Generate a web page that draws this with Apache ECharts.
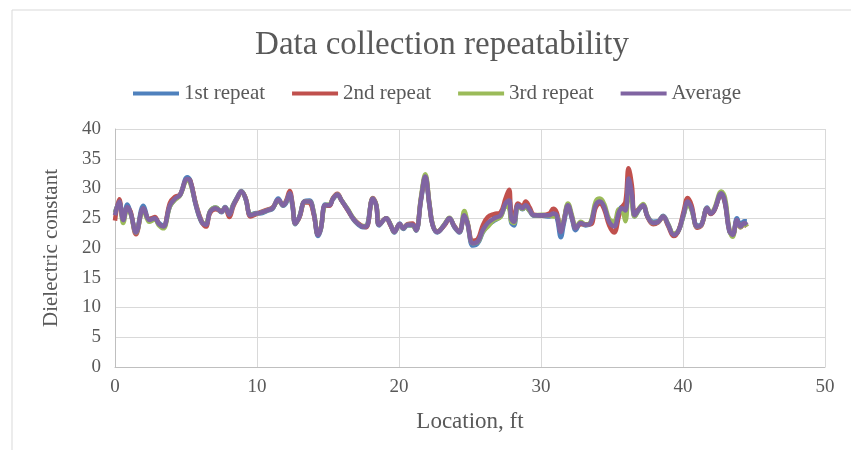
<!DOCTYPE html>
<html>
<head>
<meta charset="utf-8">
<script src="https://cdn.jsdelivr.net/npm/echarts@6/dist/echarts.min.js"></script>
<style>
  html, body { margin: 0; padding: 0; background: #ffffff; }
  #chart { width: 851px; height: 450px; }
</style>
</head>
<body>
<div id="chart"></div>
<script>
// Survey locations along the test section (ft)
const locations = [
  0.0, 0.3, 0.58, 0.87, 1.1, 1.48, 2.0, 2.42, 2.8, 3.1,
  3.4, 3.87, 4.23, 4.58, 5.09, 5.3, 5.7, 6.1, 6.4, 6.7,
  7.1, 7.5, 7.75, 8.05, 8.33, 8.6, 8.9, 9.2, 9.55, 9.95,
  10.2, 10.8, 11.1, 11.5, 11.84, 12.06, 12.3, 12.5, 12.7, 13.0,
  13.36, 13.7, 14.0, 14.3, 14.5, 14.8, 15.1, 15.35, 15.66, 15.95,
  16.4, 16.76, 17.1, 17.46, 17.7, 18.15, 18.4, 18.6, 19.1, 19.4,
  19.67, 20.05, 20.3, 20.6, 20.95, 21.2, 21.55, 21.85, 22.15, 22.37,
  22.7, 23.2, 23.55, 23.9, 24.25, 24.6, 24.8, 25.2, 25.55, 25.9,
  26.25, 26.7, 27.15, 27.5, 27.75, 27.9, 28.1, 28.38, 28.7, 28.92,
  29.2, 29.5, 30.1, 30.6, 30.86, 31.1, 31.4, 31.6, 31.9, 32.2,
  32.44, 32.8, 33.15, 33.5, 33.85, 34.15, 34.45, 34.8, 35.15, 35.5,
  35.7, 35.95, 36.17, 36.4, 36.6, 36.95, 37.2, 37.5, 37.9, 38.25,
  38.6, 38.95, 39.35, 39.7, 40.05, 40.33, 40.6, 41.0, 41.3, 41.7,
  41.95, 42.2, 42.7, 42.96, 43.26, 43.5, 43.8, 44.05, 44.3, 44.5
];

const repeat1 = [
  26.0, 27.6, 25.0, 27.3, 25.9, 22.9, 27.1, 24.9, 25.0, 24.2,
  23.8, 27.0, 28.2, 28.9, 31.9, 31.4, 27.1, 24.3, 24.0, 26.2,
  26.8, 26.0, 26.9, 25.9, 27.3, 28.5, 29.6, 28.2, 25.6, 25.9,
  25.8, 26.3, 26.6, 28.3, 27.1, 27.6, 29.0, 27.0, 24.0, 25.4,
  27.9, 28.0, 25.8, 22.0, 23.2, 27.3, 27.2, 28.2, 28.9, 28.0,
  26.4, 24.9, 24.0, 23.5, 23.6, 28.2, 27.1, 23.8, 25.0, 23.9,
  22.6, 24.1, 23.2, 23.8, 23.8, 22.9, 28.0, 31.6, 27.0, 23.8,
  22.6, 23.9, 25.0, 23.5, 22.6, 25.2, 24.3, 20.4, 20.8, 22.6,
  23.8, 24.6, 25.3, 27.2, 27.5, 24.3, 23.8, 27.1, 26.5, 27.0,
  26.2, 25.4, 25.4, 25.3, 25.5, 25.2, 21.8, 24.0, 26.9, 24.7,
  23.0, 24.2, 23.8, 24.2, 27.0, 27.6, 26.8, 24.5, 23.8, 26.3,
  26.9, 26.6, 31.3, 28.8, 25.3, 26.6, 27.0, 25.3, 24.4, 24.5,
  25.4, 24.0, 22.2, 23.0, 25.6, 27.5, 26.5, 23.8, 24.0, 26.8,
  25.8, 26.3, 29.0, 27.4, 22.8, 22.3, 25.0, 23.8, 24.5, 24.5
];

const repeat2 = [
  24.6, 28.2, 24.9, 26.7, 26.1, 22.3, 26.6, 24.8, 25.2, 24.0,
  23.6, 27.6, 28.6, 29.0, 31.5, 31.3, 27.4, 24.5, 23.6, 25.9,
  26.5, 26.2, 26.7, 25.2, 27.0, 28.3, 29.4, 28.4, 25.3, 25.7,
  26.0, 26.5, 26.8, 28.0, 27.3, 28.0, 29.6, 27.4, 24.2, 25.2,
  27.7, 27.6, 25.6, 22.3, 23.4, 27.1, 27.1, 28.4, 29.1, 28.0,
  26.3, 25.0, 24.2, 23.6, 23.5, 28.4, 27.2, 24.0, 25.0, 23.8,
  22.8, 24.0, 23.4, 24.0, 24.1, 23.1, 28.3, 32.0, 27.2, 23.9,
  22.8, 23.8, 24.9, 23.7, 22.8, 25.2, 24.4, 21.2, 21.5, 23.8,
  25.2, 25.7, 26.0, 28.3, 29.8, 26.2, 25.2, 27.5, 27.0, 27.8,
  26.8, 25.6, 25.5, 25.8, 26.6, 26.0, 23.2, 24.6, 27.2, 25.0,
  23.5, 24.0, 24.0, 24.0, 26.8, 27.5, 26.5, 23.8, 22.6, 25.5,
  26.8, 27.8, 33.4, 30.5, 25.9, 26.7, 27.2, 25.2, 24.0, 24.3,
  25.2, 23.7, 22.0, 23.0, 26.2, 28.4, 27.2, 23.4, 23.8, 26.6,
  25.7, 26.3, 29.1, 27.6, 23.0, 22.2, 24.5, 23.5, 24.0, 23.6
];

const repeat3 = [
  25.9, 27.6, 24.2, 26.7, 25.7, 22.6, 26.4, 24.4, 24.8, 23.8,
  23.3, 27.0, 28.1, 28.8, 31.4, 30.9, 27.3, 24.4, 24.1, 26.2,
  26.8, 26.1, 26.8, 25.7, 27.3, 28.4, 29.5, 28.3, 25.6, 25.8,
  25.9, 26.4, 26.7, 28.0, 27.2, 27.8, 29.0, 27.2, 24.1, 25.3,
  27.8, 27.8, 26.0, 22.3, 23.3, 27.2, 27.3, 28.3, 29.0, 28.0,
  26.5, 25.1, 24.1, 23.7, 23.7, 28.3, 27.3, 23.9, 25.0, 24.0,
  22.7, 23.9, 23.3, 23.9, 23.8, 23.0, 28.6, 32.4, 27.4, 24.0,
  22.7, 24.0, 25.1, 23.6, 22.7, 26.2, 24.6, 20.8, 21.0, 22.7,
  23.6, 24.7, 25.2, 27.0, 26.7, 24.5, 24.2, 27.0, 26.6, 26.8,
  26.2, 25.5, 25.6, 25.4, 25.3, 25.3, 23.1, 24.6, 27.5, 25.3,
  23.4, 24.4, 23.9, 24.4, 27.8, 28.3, 27.4, 24.9, 24.4, 26.5,
  26.4, 24.5, 30.4, 27.7, 25.3, 26.8, 27.4, 25.4, 24.2, 24.4,
  25.3, 24.0, 22.4, 23.0, 25.6, 27.5, 26.4, 23.6, 23.9, 26.7,
  25.9, 26.6, 29.5, 28.4, 23.2, 21.9, 24.6, 23.5, 24.1, 23.6
];

const average = [
  25.5, 27.8, 24.7, 26.9, 25.9, 22.6, 26.7, 24.7, 25.0, 24.0,
  23.6, 27.2, 28.3, 28.9, 31.6, 31.2, 27.2, 24.4, 23.9, 26.1,
  26.7, 26.1, 26.8, 25.6, 27.2, 28.4, 29.5, 28.3, 25.5, 25.8,
  25.9, 26.4, 26.7, 28.1, 27.2, 27.8, 29.2, 27.2, 24.1, 25.3,
  27.8, 27.8, 25.8, 22.2, 23.3, 27.2, 27.2, 28.3, 29.0, 28.0,
  26.4, 25.0, 24.1, 23.6, 23.6, 28.3, 27.2, 23.9, 25.0, 23.9,
  22.7, 24.0, 23.3, 23.9, 23.9, 23.0, 28.3, 32.0, 27.2, 23.9,
  22.7, 23.9, 25.0, 23.6, 22.7, 25.5, 24.4, 20.8, 21.1, 23.0,
  24.2, 25.0, 25.5, 27.5, 28.0, 25.0, 24.4, 27.2, 26.7, 27.2,
  26.4, 25.5, 25.5, 25.5, 25.8, 25.5, 22.7, 24.4, 27.2, 25.0,
  23.3, 24.2, 23.9, 24.2, 27.2, 27.8, 26.9, 24.4, 23.6, 26.1,
  26.7, 26.3, 31.7, 29.0, 25.5, 26.7, 27.2, 25.3, 24.2, 24.4,
  25.3, 23.9, 22.2, 23.0, 25.8, 27.8, 26.7, 23.6, 23.9, 26.7,
  25.8, 26.4, 29.2, 27.8, 23.0, 22.2, 24.7, 23.6, 24.2, 23.9
];

const seriesNames = ['1st repeat', '2nd repeat', '3rd repeat', 'Average'];
const xTicks = [0, 10, 20, 30, 40, 50];
const yTicks = [0, 5, 10, 15, 20, 25, 30, 35, 40];

const seriesColors = ['#4F81BD', '#C0504D', '#9BBB59', '#8064A2'];
const seriesValues = [repeat1, repeat2, repeat3, average];
const textColor = '#595959';
const serif = '"Liberation Serif", "Times New Roman", serif';

const chart = echarts.init(document.getElementById('chart'), null, { renderer: 'canvas' });

const option = {
  backgroundColor: '#ffffff',
  animation: false,
  graphic: [{
    type: 'rect',
    silent: true,
    shape: { x: 12, y: 10, width: 900, height: 500 },
    style: { fill: 'none', stroke: '#d9d9d9', lineWidth: 1 }
  }],
  title: {
    text: 'Data collection repeatability',
    left: 437,
    textAlign: 'center',
    top: 24,
    textStyle: { fontFamily: serif, fontSize: 33, fontWeight: 'normal', color: textColor }
  },
  legend: {
    top: 78,
    left: 128,
    itemWidth: 46,
    itemHeight: 4,
    itemGap: 27,
    icon: 'rect',
    data: seriesNames,
    textStyle: { fontFamily: serif, fontSize: 21, color: textColor }
  },
  grid: { left: 115, right: 26, top: 129, bottom: 83, containLabel: false },
  xAxis: {
    type: 'value',
    min: xTicks[0],
    max: xTicks[xTicks.length - 1],
    interval: 10,
    name: 'Location, ft',
    nameLocation: 'middle',
    nameGap: 43,
    nameTextStyle: { fontFamily: serif, fontSize: 23, color: textColor },
    axisLine: { show: true, lineStyle: { color: '#bfbfbf', width: 1 } },
    axisTick: { show: false },
    axisLabel: { fontFamily: serif, fontSize: 19, color: textColor, margin: 11 },
    splitLine: { show: true, lineStyle: { color: '#d9d9d9', width: 1 } }
  },
  yAxis: {
    type: 'value',
    min: yTicks[0],
    max: yTicks[yTicks.length - 1],
    interval: 5,
    name: 'Dielectric constant',
    nameLocation: 'middle',
    nameGap: 53,
    nameTextStyle: { fontFamily: serif, fontSize: 21, color: textColor },
    axisLine: { show: true, lineStyle: { color: '#bfbfbf', width: 1 } },
    axisTick: { show: false },
    axisLabel: { fontFamily: serif, fontSize: 19, color: textColor, margin: 14 },
    splitLine: { show: true, lineStyle: { color: '#d9d9d9', width: 1 } }
  },
  series: seriesNames.map((name, i) => ({
    name: name,
    type: 'line',
    smooth: 0.4,
    showSymbol: false,
    symbol: 'none',
    color: seriesColors[i],
    lineStyle: { width: 4.5, color: seriesColors[i] },
    data: locations.map((x, k) => [x, seriesValues[i][k]])
  }))
};

chart.setOption(option);
</script>
</body>
</html>
